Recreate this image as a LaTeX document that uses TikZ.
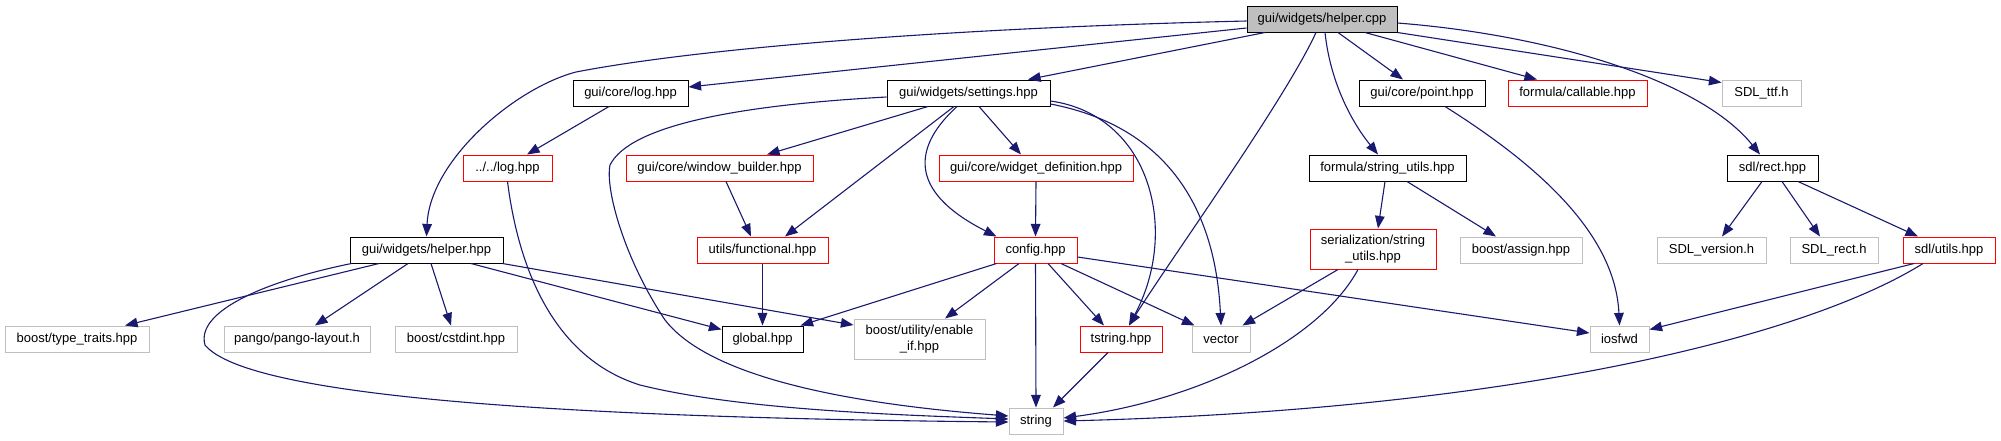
\documentclass[tikz,border=0pt]{standalone}
\usepackage{fontspec}
\setmainfont{Liberation Sans}
\usetikzlibrary{arrows.meta,calc}
\definecolor{edgecol}{RGB}{25,25,112}
\definecolor{greyseven}{RGB}{191,191,191}
\definecolor{redbox}{RGB}{255,0,0}
\newcommand{\mkbox}[7]{\node[#2,minimum width={(#5-#3)*0.5pt},minimum height={(#6-#4)*0.5pt}] (#1) at ({(#3+#5)/2},{(#4+#6)/2}) {#7};}
\tikzset{
 basebox/.style={rectangle,inner sep=0pt,line width=0.5pt,fill=white,font=\fontsize{6.5pt}{7.8pt}\selectfont,align=center},
 docbox/.style={basebox,draw=black},
 undocbox/.style={basebox,draw=redbox},
 extbox/.style={basebox,draw=greyseven},
 rootbox/.style={basebox,draw=black,fill=greyseven},
 edge/.style={draw=edgecol,line width=0.55pt,-{Triangle[length=6.3pt,width=4.8pt]}},
}
\begin{document}
\begin{tikzpicture}[x=0.5pt,y=-0.5pt]
\useasboundingbox[fill=white] (0,0) rectangle (2001,440);
% nodes
\mkbox{hcpp}{rootbox}{1247}{6}{1397}{32}{gui/widgets/helper.cpp}
\mkbox{corelog}{docbox}{573}{80}{688}{106}{gui/core/log.hpp}
\mkbox{settings}{docbox}{887}{80}{1050}{106}{gui/widgets/settings.hpp}
\mkbox{point}{docbox}{1359}{80}{1485}{106}{gui/core/point.hpp}
\mkbox{callable}{undocbox}{1508}{80}{1647}{106}{formula/callable.hpp}
\mkbox{sdlttf}{extbox}{1722}{80}{1801}{106}{SDL\_ttf.h}
\mkbox{logl}{undocbox}{463}{155}{552}{181}{../../log.hpp}
\mkbox{winb}{undocbox}{626}{155}{813}{181}{gui/core/window\_builder.hpp}
\mkbox{widdef}{undocbox}{939}{155}{1133}{181}{gui/core/widget\_definition.hpp}
\mkbox{fsu}{docbox}{1309}{155}{1466}{181}{formula/string\_utils.hpp}
\mkbox{rect}{docbox}{1727}{155}{1818}{181}{sdl/rect.hpp}
\mkbox{helperhpp}{docbox}{350}{237}{503}{263}{gui/widgets/helper.hpp}
\mkbox{func}{undocbox}{697}{237}{828}{263}{utils/functional.hpp}
\mkbox{config}{undocbox}{994}{237}{1077}{263}{config.hpp}
\mkbox{ser}{undocbox}{1310}{229}{1436}{269}{serialization/string\\\_utils.hpp}
\mkbox{assign}{extbox}{1460}{237}{1582}{263}{boost/assign.hpp}
\mkbox{sdlver}{extbox}{1657}{237}{1766}{263}{SDL\_version.h}
\mkbox{sdlrect}{extbox}{1790}{237}{1878}{263}{SDL\_rect.h}
\mkbox{sdlutils}{undocbox}{1903}{237}{1995}{263}{sdl/utils.hpp}
\mkbox{typetraits}{extbox}{5}{326}{149}{352}{boost/type\_traits.hpp}
\mkbox{pango}{extbox}{224}{326}{370}{352}{pango/pango-layout.h}
\mkbox{cstdint}{extbox}{395}{326}{517}{352}{boost/cstdint.hpp}
\mkbox{global}{docbox}{722}{326}{803}{352}{global.hpp}
\mkbox{enableif}{extbox}{854}{319}{985}{359}{boost/utility/enable\\\_if.hpp}
\mkbox{tstring}{undocbox}{1080}{326}{1162}{352}{tstring.hpp}
\mkbox{vector}{extbox}{1192}{326}{1250}{352}{vector}
\mkbox{iosfwd}{extbox}{1590}{326}{1649}{352}{iosfwd}
\mkbox{string}{extbox}{1009}{408}{1063}{434}{string}
% edges from helper.cpp
\draw[edge] ($(hcpp.west)+(0,2)$) .. controls (950,28) and (700,48) .. (576,72) .. controls (515,88) and (430,160) .. (helperhpp.north);
\draw[edge] ($(hcpp.west)+(0,9)$) -- ($(corelog.east)+(0,-6)$);
\draw[edge] ($(hcpp.south)+(-57,0)$) -- ($(settings.north)+(59.5,0)$);
\draw[edge] ($(hcpp.south)+(-6,0)$) .. controls (1285,100) and (1170,260) .. ($(tstring.north)+(8,0)$);
\draw[edge] ($(hcpp.south)+(3,0)$) .. controls (1330,80) and (1350,120) .. ($(fsu.north)+(-9.5,0)$);
\draw[edge] ($(hcpp.south)+(16,0)$) -- ($(point.north)+(-19,0)$);
\draw[edge] ($(hcpp.south)+(43,0)$) -- ($(callable.north)+(-40.5,0)$);
\draw[edge] (hcpp.south east) -- ($(sdlttf.north west)+(0,3)$);
\draw[edge] ($(hcpp.east)+(0,4)$) .. controls (1550,35) and (1700,80) .. ($(rect.north)+(-12.5,0)$);
% log
\draw[edge] ($(corelog.south)+(-21.5,0)$) -- ($(logl.north)+(19.5,0)$);
\draw[edge] (logl.south) .. controls (520,280) and (560,360) .. (640,385) .. controls (740,410) and (900,415) .. ($(string.west)+(0,-2)$);
% settings
\draw[edge] ($(settings.west)+(0,4)$) .. controls (740,105) and (630,125) .. (610,165) .. controls (605,190) and (625,260) .. (665,320) .. controls (700,365) and (800,400) .. ($(string.west)+(0,-5)$);
\draw[edge] ($(settings.south)+(-40.5,0)$) -- ($(winb.north)+(47.5,0)$);
\draw[edge] ($(settings.south)+(-14.5,0)$) -- ($(func.north)+(22.5,0)$);
\draw[edge] ($(settings.south)+(-11.5,0)$) .. controls (915,145) and (905,190) .. ($(config.north west)+(3,0)$);
\draw[edge] ($(settings.south)+(10.5,0)$) -- ($(widdef.north)+(-15,0)$);
\draw[edge] ($(settings.east)+(0,8)$) .. controls (1150,115) and (1180,230) .. ($(tstring.north)+(8,0)$);
\draw[edge] ($(settings.east)+(0,11)$) .. controls (1160,125) and (1215,200) .. (vector.north);
% second row
\draw[edge] (widdef.south) -- (config.north);
\draw[edge] ($(winb.south)+(6.5,0)$) -- ($(func.north)+(-11.5,0)$);
\draw[edge] (func.south) -- (global.north);
% config
\draw[edge] ($(config.south west)+(3,0)$) -- ($(global.north east)+(-3,0)$);
\draw[edge] ($(config.south)+(-16.5,0)$) -- ($(enableif.north)+(25.5,0)$);
\draw[edge] (config.south) -- (string.north);
\draw[edge] ($(config.south)+(12.5,0)$) -- ($(tstring.north)+(-17,0)$);
\draw[edge] ($(config.south)+(25.5,0)$) -- ($(vector.north west)+(3,0)$);
\draw[edge] ($(config.east)+(0,7)$) -- ($(iosfwd.west)+(0,-6)$);
\draw[edge] ($(tstring.south)+(-13,0)$) -- ($(string.north)+(17,0)$);
% helper.hpp
\draw[edge] ($(helperhpp.south)+(-47.5,0)$) -- ($(typetraits.north)+(48,0)$);
\draw[edge] ($(helperhpp.south)+(-18.5,0)$) -- ($(pango.north)+(18,0)$);
\draw[edge] ($(helperhpp.south)+(4.5,0)$) -- ($(cstdint.north)+(-5,0)$);
\draw[edge] ($(helperhpp.south)+(44.5,0)$) -- ($(global.north west)+(0,4)$);
\draw[edge] ($(helperhpp.south east)+(-1,0)$) -- ($(enableif.west)+(0,-14)$);
\draw[edge] ($(helperhpp.south west)+(2,0)$) .. controls (270,280) and (195,310) .. (205,345) .. controls (250,400) and (600,418) .. ($(string.west)+(0,1)$);
% formula/string_utils
\draw[edge] ($(fsu.south)+(-2.5,0)$) -- ($(ser.north)+(5,0)$);
\draw[edge] ($(fsu.south)+(19.5,0)$) -- ($(assign.north)+(-25,0)$);
\draw[edge] ($(point.south)+(23,0)$) .. controls (1530,160) and (1615,230) .. (iosfwd.north);
% serialization
\draw[edge] ($(ser.south)+(-35,0)$) -- ($(vector.north east)+(-8,0)$);
\draw[edge] ($(ser.south)+(-15,0)$) .. controls (1320,340) and (1200,400) .. ($(string.east)+(0,-3)$);
% sdl
\draw[edge] ($(rect.south)+(-10.5,0)$) -- ($(sdlver.north)+(10.5,0)$);
\draw[edge] ($(rect.south)+(9.5,0)$) -- ($(sdlrect.north)+(-14,0)$);
\draw[edge] ($(rect.south)+(25.5,0)$) -- ($(sdlutils.north)+(-31,0)$);
\draw[edge] ($(sdlutils.south)+(-35,0)$) -- ($(iosfwd.north east)+(0,4)$);
\draw[edge] ($(sdlutils.south)+(-26,0)$) .. controls (1800,340) and (1500,410) .. (string.east);
\end{tikzpicture}
\end{document}
